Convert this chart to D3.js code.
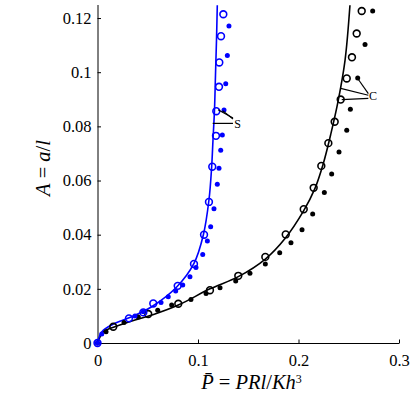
<!DOCTYPE html>
<html>
<head>
<meta charset="utf-8">
<script src="https://cdn.jsdelivr.net/npm/d3@7"></script>
<style>
  body { margin: 0; background: #fff; }
  svg text { font-family: "Liberation Serif", "Times New Roman", Times, Tinos, "DejaVu Serif", "Noto Serif", serif; }
</style>
</head>
<body>
<div id="chart-area"></div>
<script>
// values, [P, A]
const blueCurve = [[0,0],[0.0042,0.0041],[0.0174,0.0073],[0.0340,0.0097],[0.0539,0.0134],[0.0788,0.0207],
  [0.0960,0.0294],[0.1053,0.0399],[0.1109,0.0528],[0.1136,0.0651],[0.1149,0.0749],[0.1164,0.0860],
  [0.1174,0.0989],[0.1184,0.1118],[0.1192,0.1247]]
const blackCurve = [[0,0],[0.0058,0.0041],[0.0174,0.0060],[0.0373,0.0085],[0.0572,0.0107],[0.0804,0.0140],
  [0.1119,0.0200],[0.1401,0.0245],[0.1670,0.0310],[0.1866,0.0386],[0.2052,0.0489],[0.2164,0.0571],
  [0.2247,0.0663],[0.2323,0.0774],[0.2396,0.0897],[0.2463,0.1044],[0.2512,0.1247]]

const blueOpen = [[0,0],[0.0313,0.0091],[0.0456,0.0113],[0.0555,0.0146],[0.0798,0.0211],[0.0960,0.0292],
  [0.1060,0.0400],[0.1109,0.0521],[0.1142,0.0651],[0.1179,0.0765],[0.1182,0.0856],[0.1209,0.0946],
  [0.1212,0.1036],[0.1229,0.1133],[0.1252,0.1214]]
const blueFilled = [[0,0],[0.0042,0.0033],[0.0373,0.0100],[0.0455,0.0115],[0.0632,0.0150],[0.0704,0.0171],
  [0.0778,0.0192],[0.0848,0.0214],[0.0920,0.0245],[0.0980,0.0279],[0.1047,0.0327],[0.1093,0.0377],
  [0.1126,0.0429],[0.1159,0.0496],[0.1192,0.0586],[0.1209,0.0645],[0.1226,0.0712],[0.1242,0.0768],
  [0.1259,0.0860],[0.1276,0.0957],[0.1292,0.1062],[0.1308,0.1171]]
const blackOpen = [[0.0157,0.0060],[0.0505,0.0107],[0.0804,0.0145],[0.1119,0.0195],[0.1401,0.0248],
  [0.1670,0.0318],[0.1873,0.0401],[0.2052,0.0494],[0.2151,0.0573],[0.2227,0.0654],[0.2297,0.0738],
  [0.2360,0.0817],[0.2420,0.0899],[0.2480,0.0977],[0.2532,0.1055],[0.2579,0.1143],[0.2629,0.1226]]
const blackFilled = [[0,0],[0.0085,0.0042],[0.0264,0.0076],[0.0406,0.0096],[0.0599,0.0121],[0.0738,0.0140],
  [0.0930,0.0161],[0.1080,0.0183],[0.1219,0.0204],[0.1375,0.0229],[0.1517,0.0258],[0.1670,0.0292],
  [0.1813,0.0333],[0.1925,0.0370],[0.2035,0.0418],[0.2141,0.0476],[0.2257,0.0556],[0.2330,0.0624],
  [0.2403,0.0705],[0.2480,0.0786],[0.2516,0.0863],[0.2589,0.0979],[0.2662,0.1102],[0.2738,0.1226]]

// tick values and labels
const xTicks = [0, 0.1, 0.2, 0.3]
const xTickLabels = ["0", "0.1", "0.2", "0.3"]
const yTicks = [0, 0.02, 0.04, 0.06, 0.08, 0.1, 0.12]
const yTickLabels = ["0", "0.02", "0.04", "0.06", "0.08", "0.1", "0.12"]

// annotation labels with leader lines (data coords)
const labels = ["S", "C"]
const labelAt = [[0.1395, 0.0811], [0.2741, 0.0912]]
const leaders = [
  [[[0.1348, 0.0831], [0.1200, 0.0861]], [[0.1348, 0.0827], [0.1245, 0.0858]], [[0.1348, 0.0811], [0.1146, 0.0811]]],
  [[[0.2695, 0.0921], [0.2596, 0.0973]], [[0.2695, 0.0915], [0.2420, 0.0940]], [[0.2695, 0.0903], [0.2430, 0.0899]]]
]

const W = 415, H = 415
const SERIF = "'Liberation Serif', 'Times New Roman', Times, Tinos, 'DejaVu Serif', 'Noto Serif', serif"

const svg = d3.select("#chart-area").append("svg")
  .attr("width", W)
  .attr("height", H)
  .attr("font-family", SERIF)

svg.append("rect").attr("width", W).attr("height", H).attr("fill", "#fff")

// scales
const x = d3.scaleLinear().domain([0, 0.3]).range([97.5, 399])
const y = d3.scaleLinear().domain([0, 0.125]).range([343, 4.5])

// axes
const xAxis = svg.append("g")
  .attr("transform", `translate(0, ${y(0)})`)
  .call(d3.axisBottom(x).tickValues(xTicks).tickFormat((d, i) => xTickLabels[i])
    .tickSizeInner(-3.5).tickSizeOuter(0).tickPadding(11))
const yAxis = svg.append("g")
  .attr("transform", `translate(${x(0)}, 0)`)
  .call(d3.axisLeft(y).tickValues(yTicks).tickFormat((d, i) => yTickLabels[i])
    .tickSizeInner(-3.5).tickSizeOuter(0).tickPadding(6))

// d3 puts sans-serif on the axis groups, drop it
xAxis.attr("font-family", null).attr("font-size", 16.5)
yAxis.attr("font-family", null).attr("font-size", 16.5)
svg.selectAll(".tick text").attr("fill", "#000")
svg.selectAll(".domain, .tick line").attr("stroke", "#000").attr("stroke-width", 1)

// axis labels
const yLabel = svg.append("text")
  .attr("transform", "translate(50, 168) rotate(-90)")
  .attr("text-anchor", "middle")
  .attr("font-size", "20.5px")
yLabel.append("tspan").attr("font-style", "italic").text("A")
yLabel.append("tspan").text(" = ")
yLabel.append("tspan").attr("font-style", "italic").text("a")
yLabel.append("tspan").text("/")
yLabel.append("tspan").attr("font-style", "italic").text("l")

const xLabel = svg.append("text")
  .attr("x", 251.5)
  .attr("y", 389)
  .attr("text-anchor", "middle")
  .attr("font-size", "20.5px")
xLabel.append("tspan").attr("font-style", "italic").text("P\u0304")
xLabel.append("tspan").text(" = ")
xLabel.append("tspan").attr("font-style", "italic").text("PRl")
xLabel.append("tspan").text("/")
xLabel.append("tspan").attr("font-style", "italic").text("Kh")
xLabel.append("tspan").attr("font-size", "12px").attr("dy", -6.5).text("3")

// curves
const line = d3.line()
  .x(d => x(d[0]))
  .y(d => y(d[1]))
  .curve(d3.curveCatmullRom.alpha(0.5))

svg.append("path")
  .attr("fill", "none")
  .attr("stroke", "#000")
  .attr("stroke-width", 1.6)
  .attr("d", line(blackCurve))
svg.append("path")
  .attr("fill", "none")
  .attr("stroke", "#0000ff")
  .attr("stroke-width", 1.6)
  .attr("d", line(blueCurve))

// markers
function openPts(data, color) {
  svg.append("g").selectAll("circle").data(data).join("circle")
    .attr("cx", d => x(d[0]))
    .attr("cy", d => y(d[1]))
    .attr("r", 3.4)
    .attr("fill", "none")
    .attr("stroke", color)
    .attr("stroke-width", 1.6)
}
function filledPts(data, color) {
  svg.append("g").selectAll("circle").data(data).join("circle")
    .attr("cx", d => x(d[0]))
    .attr("cy", d => y(d[1]))
    .attr("r", 2.5)
    .attr("fill", color)
}
openPts(blackOpen, "#000")
filledPts(blackFilled, "#000")
openPts(blueOpen, "#0000ff")
filledPts(blueFilled, "#0000ff")

// annotations
leaders.forEach(group => {
  svg.append("g").selectAll("line").data(group).join("line")
    .attr("x1", d => x(d[0][0]))
    .attr("y1", d => y(d[0][1]))
    .attr("x2", d => x(d[1][0]))
    .attr("y2", d => y(d[1][1]))
    .attr("stroke", "#000")
    .attr("stroke-width", 1.2)
})
svg.append("g").selectAll("text").data(labels).join("text")
  .attr("x", (d, i) => x(labelAt[i][0]))
  .attr("y", (d, i) => y(labelAt[i][1]))
  .attr("dy", "0.35em")
  .attr("text-anchor", "middle")
  .attr("font-size", "12px")
  .text(d => d)
</script>
</body>
</html>
